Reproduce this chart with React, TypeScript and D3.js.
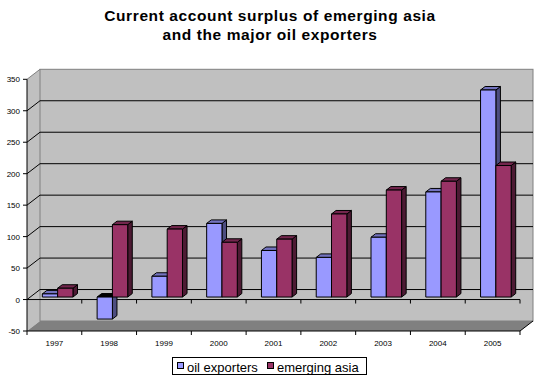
import React from "react";
import * as d3 from "d3";

const years = ["1997", "1998", "1999", "2000", "2001", "2002", "2003", "2004", "2005"];
const oilExporters = [5, -35, 33, 117, 74, 63, 95, 167, 329];
const emergingAsia = [14, 115, 108, 87, 92, 132, 170, 184, 209];
const seriesNames = ["oil exporters", "emerging asia"];
const yTicks = [-50, 0, 50, 100, 150, 200, 250, 300, 350];
const titleLines = ["Current account surplus of emerging asia", "and the major oil exporters"];

const W = 545;
const H = 381;
const FONT = "'Liberation Sans', Arial, sans-serif";

const colors = [
  { front: "#9999FF", top: "#7373BF", side: "#4D4D80" },
  { front: "#993366", top: "#73264D", side: "#4D1A33" },
];

export default function App() {
  const x0 = 27;
  const x1 = 520;
  const DX = 13;
  const DY = -10;
  const yFront = d3.scaleLinear().domain([-50, 350]).range([331, 79.3]);
  const xCat = d3.scaleBand<string>().domain(years).range([x0, x1]).paddingInner(0).paddingOuter(0);
  const xSer = d3
    .scaleBand<string>()
    .domain(seriesNames)
    .range([0, xCat.bandwidth()])
    .paddingInner(0)
    .paddingOuter(0.79);

  const P = (x: number, v: number, d: number): [number, number] => [x + d * DX, yFront(v) + d * DY];
  const pts = (arr: [number, number][]) => arr.map((p) => p.join(",")).join(" ");

  const backLeft = x0 + DX;
  const backRight = x1 + DX;
  const yTop = yFront(350);
  const yBot = yFront(-50);

  const d0 = 0.25;
  const d1 = 0.6;

  const bars: JSX.Element[] = [];
  years.forEach((yr, i) => {
    [oilExporters, emergingAsia].forEach((vals, s) => {
      const v = vals[i];
      const xl = (xCat(yr) as number) + (xSer(seriesNames[s]) as number);
      const xr = xl + xSer.bandwidth();
      const vt = Math.max(0, v);
      const vb = Math.min(0, v);
      const c = colors[s];
      const front = [P(xl, vt, d0), P(xr, vt, d0), P(xr, vb, d0), P(xl, vb, d0)] as [number, number][];
      const top = [P(xl, vt, d0), P(xr, vt, d0), P(xr, vt, d1), P(xl, vt, d1)] as [number, number][];
      const side = [P(xr, vt, d0), P(xr, vt, d1), P(xr, vb, d1), P(xr, vb, d0)] as [number, number][];
      bars.push(
        <g key={`${yr}-${s}`} stroke="#000" strokeWidth={1} strokeLinejoin="round">
          <polygon points={pts(side)} fill={c.side} />
          <polygon points={pts(top)} fill={v < 0 ? "#000" : c.top} />
          <polygon points={pts(front)} fill={c.front} />
        </g>
      );
    });
  });

  const boundaries = years.map((y) => xCat(y) as number).concat([x1]);

  return (
    <svg width={W} height={H} style={{ position: "absolute", left: 0, top: 0, background: "#fff" }}>
      {/* title */}
      {titleLines.map((t, i) => (
        <text
          key={i}
          x={270}
          y={21 + i * 18.5}
          textAnchor="middle"
          fontFamily={FONT}
          fontWeight="bold"
          fontSize={15.5}
          letterSpacing={0.6}
          fill="#000"
        >
          {t}
        </text>
      ))}

      {/* side wall */}
      <polygon
        points={pts([
          [x0, yTop],
          [backLeft, yTop + DY],
          [backLeft, yBot + DY],
          [x0, yBot],
        ])}
        fill="#C0C0C0"
      />
      {/* back wall */}
      <rect
        x={backLeft}
        y={yTop + DY}
        width={backRight - backLeft}
        height={yBot - yTop}
        fill="#C0C0C0"
        stroke="#808080"
        strokeWidth={1}
      />
      <line x1={x0} y1={yTop} x2={backLeft} y2={yTop + DY} stroke="#808080" />
      {/* floor */}
      <polygon
        points={pts([
          [x0, yBot],
          [backLeft, yBot + DY],
          [backRight, yBot + DY],
          [x1, yBot],
        ])}
        fill="#808080"
      />
      {/* gridlines */}
      {yTicks
        .filter((t) => t >= 0 && t < 350)
        .map((t) => (
          <g key={t} stroke="#000" strokeWidth={1}>
            <line x1={x0} y1={yFront(t)} x2={backLeft} y2={yFront(t) + DY} />
            <line x1={backLeft} y1={yFront(t) + DY} x2={backRight} y2={yFront(t) + DY} />
          </g>
        ))}
      {/* front zero line with ticks */}
      <line x1={x0} y1={yFront(0)} x2={x1} y2={yFront(0)} stroke="#000" />
      {boundaries.slice(1).map((b, i) => (
        <line key={i} x1={b} y1={yFront(0)} x2={b} y2={yFront(0) + 4} stroke="#000" />
      ))}

      {bars}

      {/* value axis */}
      <line x1={x0} y1={yTop} x2={x0} y2={yBot} stroke="#000" />
      {yTicks.map((t) => (
        <g key={t}>
          <line x1={x0 - 4} y1={yFront(t)} x2={x0} y2={yFront(t)} stroke="#000" />
          <text
            x={20}
            y={yFront(t) + 3}
            textAnchor="end"
            fontFamily={FONT}
            fontSize={8}
            fill="#000"
          >
            {t}
          </text>
        </g>
      ))}

      {/* category axis */}
      <line x1={x0} y1={yBot} x2={x1} y2={yBot} stroke="#000" />
      {boundaries.map((b, i) => (
        <line key={i} x1={b} y1={yBot} x2={b} y2={yBot + 4} stroke="#000" />
      ))}
      <line x1={x1} y1={yBot} x2={backRight} y2={yBot + DY} stroke="#000" />
      {years.map((y) => (
        <text
          key={y}
          x={(xCat(y) as number) + xCat.bandwidth() / 2}
          y={345.5}
          textAnchor="middle"
          fontFamily={FONT}
          fontSize={8}
          fill="#000"
        >
          {y}
        </text>
      ))}

      {/* legend */}
      <rect x={172.5} y={357.5} width={194} height={17} fill="#fff" stroke="#000" />
      {seriesNames.map((n, i) => {
        const lx = i === 0 ? 177 : 267;
        return (
          <g key={n}>
            <rect x={lx + 0.5} y={362.5} width={6} height={6} fill={colors[i].front} stroke="#000" />
            <text x={lx + 10} y={371.5} fontFamily={FONT} fontSize={13} fill="#000">
              {n}
            </text>
          </g>
        );
      })}
    </svg>
  );
}
